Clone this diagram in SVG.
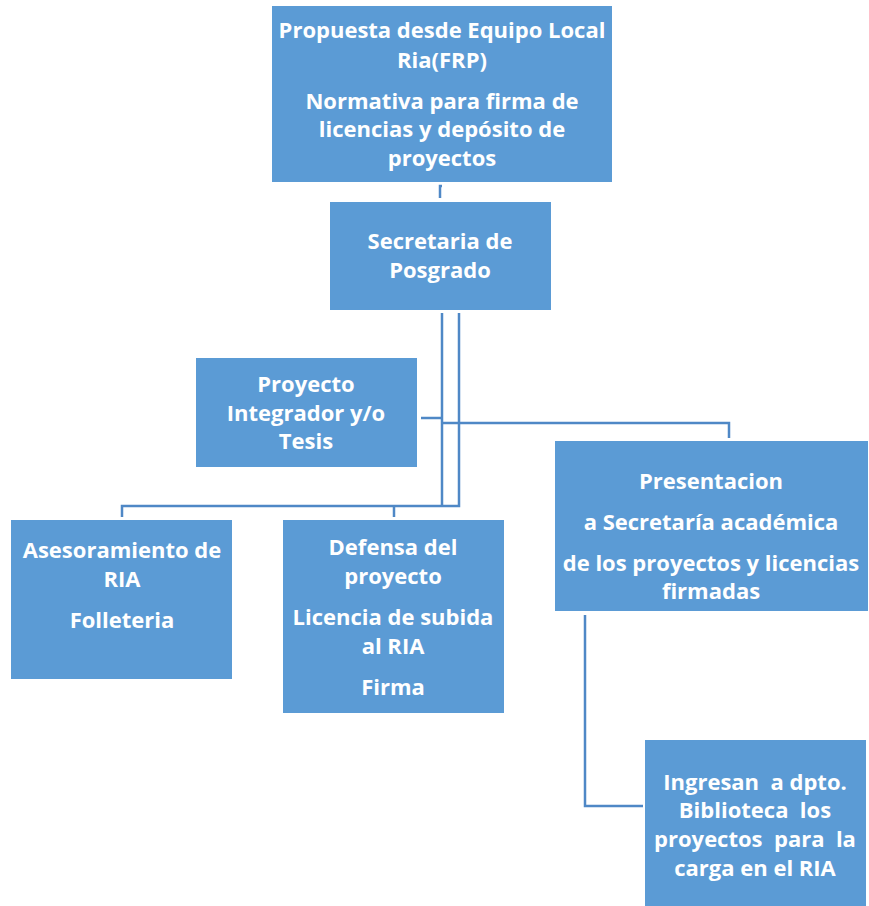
<svg xmlns="http://www.w3.org/2000/svg" width="869" height="906" viewBox="0 0 869 906">
<style>
.box{fill:#5B9BD5;}
.t{fill:#fff;font-family:"Open Sans","Liberation Sans",sans-serif;font-weight:bold;font-size:22px;text-anchor:middle;}
.c{fill:none;stroke:#4F88C6;stroke-width:2.5;}
</style>
<rect width="869" height="906" fill="#fff"/>
<g id="connectors">
<path class="c" d="M440 198 V186 H442"/>
<path class="c" d="M442 313 V506" stroke-width="3.5"/>
<path class="c" d="M459 313 V506 H122 V517"/>
<path class="c" d="M394 506 V517"/>
<path class="c" d="M421 418 H442"/>
<path class="c" d="M442 423 H729 V438"/>
<path class="c" d="M585 615 V806 H643"/>
</g>
<g id="n1"><rect class="box" x="272" y="6" width="340" height="176"/>
<text class="t" x="442" y="38">Propuesta desde Equipo Local</text>
<text class="t" x="442" y="68">Ria(FRP)</text>
<text class="t" x="442" y="109">Normativa para firma de</text>
<text class="t" x="442" y="137">licencias y depósito de</text>
<text class="t" x="442" y="166">proyectos</text></g>
<g id="n2"><rect class="box" x="330" y="202" width="221" height="108"/>
<text class="t" x="440" y="249">Secretaria de</text>
<text class="t" x="440" y="278">Posgrado</text></g>
<g id="n3"><rect class="box" x="196" y="358" width="221" height="109"/>
<text class="t" x="306" y="392">Proyecto</text>
<text class="t" x="306" y="421">Integrador y/o</text>
<text class="t" x="306" y="449">Tesis</text></g>
<g id="n4"><rect class="box" x="555" y="441" width="313" height="170"/>
<text class="t" x="711" y="489">Presentacion</text>
<text class="t" x="711" y="530">a Secretaría académica</text>
<text class="t" x="711" y="571">de los proyectos y licencias</text>
<text class="t" x="711" y="599">firmadas</text></g>
<g id="n5"><rect class="box" x="11" y="520" width="221" height="159"/>
<text class="t" x="122" y="558">Asesoramiento de</text>
<text class="t" x="122" y="587">RIA</text>
<text class="t" x="122" y="628">Folleteria</text></g>
<g id="n6"><rect class="box" x="283" y="520" width="221" height="193"/>
<text class="t" x="393" y="555">Defensa del</text>
<text class="t" x="393" y="584">proyecto</text>
<text class="t" x="393" y="625">Licencia de subida</text>
<text class="t" x="393" y="654">al RIA</text>
<text class="t" x="393" y="695">Firma</text></g>
<g id="n7"><rect class="box" x="645" y="740" width="221" height="166"/>
<text class="t" x="755" y="790" xml:space="preserve">Ingresan  a dpto.</text>
<text class="t" x="755" y="818" xml:space="preserve">Biblioteca  los</text>
<text class="t" x="755" y="847" xml:space="preserve">proyectos  para  la</text>
<text class="t" x="755" y="876">carga en el RIA</text></g>
</svg>
